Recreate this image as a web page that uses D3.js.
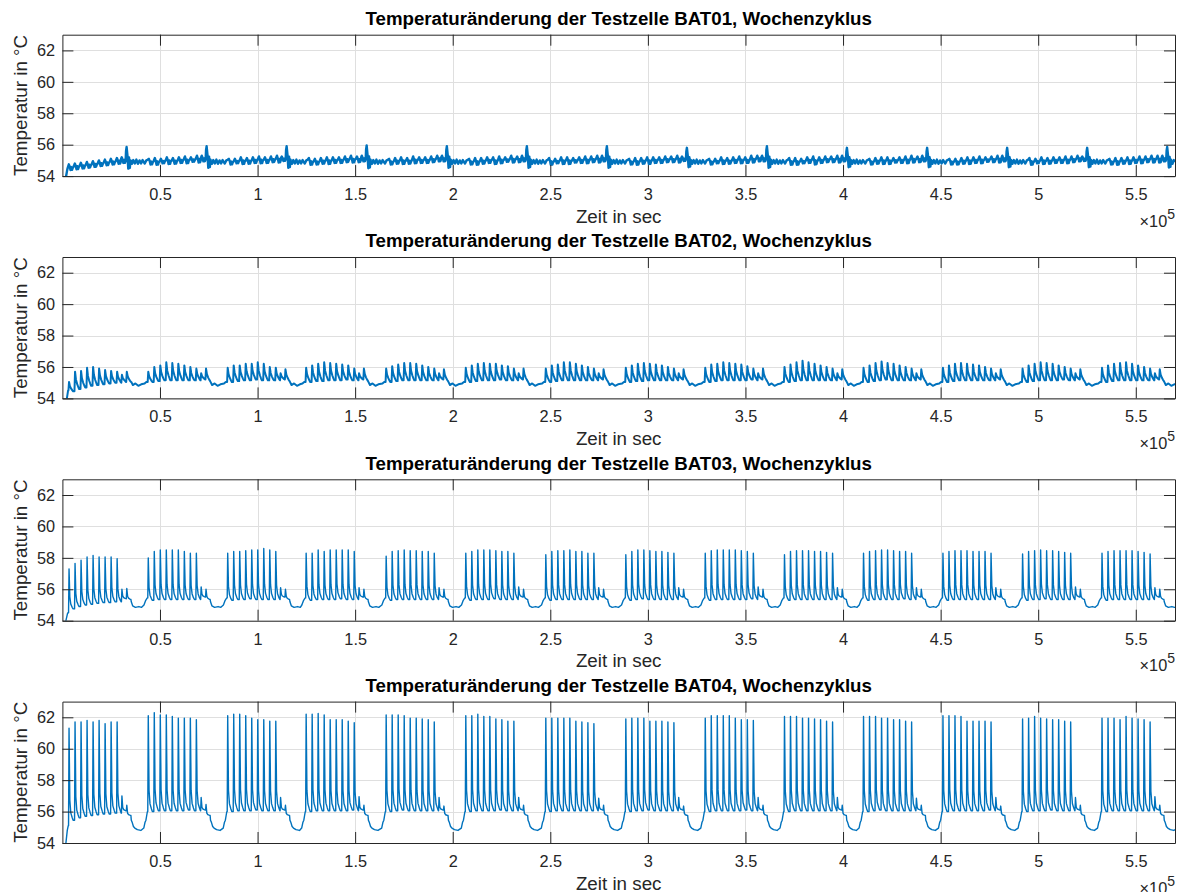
<!DOCTYPE html>
<html>
<head>
<meta charset="utf-8">
<script src="https://cdn.jsdelivr.net/npm/d3@7"></script>
<style>
  body { margin: 0; background: #ffffff; }
  text { font-family: "Liberation Sans", Arial, Helvetica, sans-serif; }
</style>
</head>
<body>
<svg id="chart" width="1183" height="892"></svg>
<script>
// ---------------- data ----------------
const cellNames = ["BAT01", "BAT02", "BAT03", "BAT04"];
const xTicks = [50000, 100000, 150000, 200000, 250000, 300000, 350000, 400000, 450000, 500000, 550000];
const yTicks = [54, 56, 58, 60, 62];
const timeEnd = 570100;          // last sample, s
const tempRange = [54, 63];      // °C

// first charge pulse of every daily block (s)
const cycleStart = [3400, 44000, 84700, 124900, 165900, 206700, 247700, 288700, 329400, 370000, 410500, 451200, 492000, 532700];
const bat01Start = [3300, 44300, 85300, 126300, 167400, 208400, 249400, 290400, 331400, 372400, 413500, 454500, 495500, 536500];
// pulse times inside a block, relative to its start (s): nine charge pulses, two trailing pulses
const pulseOffset = [0, 3080, 6160, 9240, 12320, 15400, 18480, 21560, 24640, 27100, 29600];

// BAT01: peak and trough temperatures of every pulse (°C)
const bat01Peaks = [
  [54.75, 54.8, 54.85, 54.9, 54.95, 55.0, 55.05, 55.1, 55.15, 55.2, 55.85],
  [55.1, 55.15, 55.1, 55.2, 55.15, 55.2, 55.25, 55.2, 55.3, 55.3, 55.9],
  [55.1, 55.1, 55.2, 55.15, 55.2, 55.25, 55.2, 55.25, 55.3, 55.25, 55.9],
  [55.15, 55.1, 55.15, 55.2, 55.2, 55.2, 55.25, 55.3, 55.25, 55.3, 55.95],
  [55.1, 55.15, 55.2, 55.15, 55.25, 55.2, 55.2, 55.25, 55.3, 55.3, 55.9],
  [55.1, 55.15, 55.15, 55.2, 55.2, 55.25, 55.2, 55.3, 55.25, 55.3, 55.9],
  [55.15, 55.1, 55.2, 55.2, 55.15, 55.2, 55.25, 55.25, 55.3, 55.3, 55.9],
  [55.1, 55.15, 55.15, 55.2, 55.2, 55.2, 55.25, 55.25, 55.3, 55.25, 55.8],
  [55.1, 55.1, 55.2, 55.15, 55.2, 55.25, 55.2, 55.3, 55.3, 55.3, 55.9],
  [55.15, 55.15, 55.1, 55.2, 55.25, 55.2, 55.25, 55.25, 55.3, 55.3, 55.8],
  [55.1, 55.15, 55.2, 55.2, 55.15, 55.2, 55.25, 55.3, 55.25, 55.3, 55.8],
  [55.1, 55.1, 55.15, 55.2, 55.2, 55.25, 55.2, 55.25, 55.3, 55.3, 55.8],
  [55.15, 55.1, 55.2, 55.15, 55.2, 55.2, 55.25, 55.25, 55.3, 55.25, 55.8],
  [55.1, 55.15, 55.15, 55.2, 55.2, 55.25, 55.25, 55.3, 55.3, 55.3, 55.85]
];
const bat01Troughs = [
  [54.5, 54.55, 54.6, 54.65, 54.7, 54.75, 54.8, 54.85, 54.9, 54.95, 54.9],
  [54.85, 54.85, 54.9, 54.9, 54.9, 54.95, 54.95, 55.0, 55.0, 55.05, 54.95],
  [54.85, 54.9, 54.9, 54.9, 54.95, 54.95, 54.95, 55.0, 55.0, 55.05, 54.95],
  [54.85, 54.85, 54.9, 54.9, 54.95, 54.95, 55.0, 55.0, 55.0, 55.05, 54.95],
  [54.85, 54.9, 54.9, 54.9, 54.95, 54.95, 54.95, 55.0, 55.05, 55.05, 54.95],
  [54.85, 54.85, 54.9, 54.95, 54.9, 54.95, 55.0, 55.0, 55.0, 55.05, 54.95],
  [54.85, 54.9, 54.9, 54.9, 54.95, 54.95, 54.95, 55.0, 55.0, 55.05, 54.95],
  [54.85, 54.85, 54.9, 54.9, 54.95, 54.95, 55.0, 55.0, 55.0, 55.05, 54.95],
  [54.85, 54.9, 54.9, 54.9, 54.95, 54.95, 54.95, 55.0, 55.05, 55.05, 54.95],
  [54.85, 54.85, 54.9, 54.95, 54.9, 54.95, 55.0, 55.0, 55.0, 55.05, 54.95],
  [54.85, 54.9, 54.9, 54.9, 54.95, 54.95, 54.95, 55.0, 55.0, 55.05, 54.95],
  [54.85, 54.85, 54.9, 54.9, 54.95, 54.95, 55.0, 55.0, 55.0, 55.05, 54.95],
  [54.85, 54.9, 54.9, 54.9, 54.95, 54.95, 54.95, 55.0, 55.05, 55.05, 54.95],
  [54.85, 54.85, 54.9, 54.9, 54.95, 54.95, 55.0, 55.0, 55.0, 55.05, 54.95]
];
// pulse outline: [time from peak (s), share of the rise above the trough]; BAT01 carries sensor ripple after each pulse
const bat01Shape = [[-700, 0.3], [-300, 0.7], [0, 1], [450, 0.4], [850, -0.45], [1250, 0.3], [1650, -0.4], [2000, 0.1]];
// rest phase after the trailing pulses [s from block start, °C] and warm-up before the next block [s before it, °C]
const bat01Rest = [[31700, 55.0], [32300, 54.78], [33000, 55.02], [33800, 54.8], [34600, 55.05], [35400, 54.78], [36200, 55.0], [37000, 54.8], [37800, 55.02]];
const bat01Rise = [[-2100, 54.8], [-1300, 55.0]];
const bat01LeadIn = [[0, 52.5], [1900, 54.0], [2400, 54.35]];

// BAT02
const bat02Peaks = [
  [55.05, 55.7, 55.75, 55.95, 56.0, 55.9, 55.8, 55.75, 55.7, 55.5, 55.7],
  [55.7, 56.0, 56.1, 56.3, 56.25, 56.2, 56.1, 56.0, 55.9, 55.6, 55.9],
  [55.95, 56.1, 56.1, 56.2, 56.2, 56.3, 56.2, 56.0, 55.95, 55.6, 55.85],
  [55.95, 56.1, 56.2, 56.3, 56.25, 56.2, 56.15, 56.1, 55.9, 55.6, 55.9],
  [55.9, 56.05, 56.15, 56.25, 56.25, 56.2, 56.1, 56.0, 55.9, 55.6, 55.85],
  [55.95, 56.1, 56.2, 56.25, 56.2, 56.2, 56.1, 56.05, 55.9, 55.6, 55.9],
  [55.9, 56.1, 56.15, 56.3, 56.3, 56.2, 56.1, 56.0, 55.9, 55.6, 55.85],
  [55.95, 56.1, 56.2, 56.25, 56.2, 56.15, 56.1, 56.0, 55.9, 55.6, 55.85],
  [55.95, 56.15, 56.2, 56.3, 56.25, 56.2, 56.15, 56.05, 55.9, 55.6, 55.9],
  [56.0, 56.15, 56.3, 56.4, 56.3, 56.2, 56.1, 56.0, 55.9, 55.6, 55.85],
  [55.95, 56.1, 56.25, 56.35, 56.25, 56.2, 56.1, 56.0, 55.9, 55.6, 55.85],
  [55.95, 56.1, 56.2, 56.25, 56.2, 56.15, 56.1, 56.0, 55.9, 55.6, 55.85],
  [55.9, 56.1, 56.2, 56.3, 56.25, 56.2, 56.1, 56.0, 55.9, 55.6, 55.85],
  [55.95, 56.1, 56.2, 56.25, 56.3, 56.2, 56.1, 56.0, 55.9, 55.6, 55.85]
];
const bat02Troughs = [
  [54.45, 54.6, 54.7, 54.8, 54.85, 54.9, 54.95, 55.0, 55.0, 55.05, 55.05],
  [55.05, 55.1, 55.15, 55.15, 55.15, 55.15, 55.15, 55.15, 55.15, 55.2, 55.1],
  [55.05, 55.1, 55.15, 55.15, 55.2, 55.15, 55.15, 55.15, 55.15, 55.2, 55.1],
  [55.05, 55.1, 55.1, 55.15, 55.15, 55.15, 55.2, 55.15, 55.15, 55.2, 55.1],
  [55.05, 55.1, 55.15, 55.15, 55.15, 55.15, 55.15, 55.15, 55.15, 55.2, 55.1],
  [55.05, 55.1, 55.15, 55.15, 55.15, 55.2, 55.15, 55.15, 55.15, 55.2, 55.1],
  [55.05, 55.1, 55.15, 55.15, 55.15, 55.15, 55.15, 55.15, 55.15, 55.2, 55.1],
  [55.05, 55.1, 55.1, 55.15, 55.15, 55.15, 55.15, 55.15, 55.15, 55.2, 55.1],
  [55.05, 55.1, 55.15, 55.15, 55.15, 55.15, 55.15, 55.2, 55.15, 55.2, 55.1],
  [55.05, 55.1, 55.15, 55.15, 55.15, 55.15, 55.15, 55.15, 55.15, 55.2, 55.1],
  [55.05, 55.1, 55.15, 55.2, 55.15, 55.15, 55.15, 55.15, 55.15, 55.2, 55.1],
  [55.05, 55.1, 55.15, 55.15, 55.15, 55.15, 55.15, 55.15, 55.15, 55.2, 55.1],
  [55.05, 55.1, 55.15, 55.15, 55.15, 55.15, 55.2, 55.15, 55.15, 55.2, 55.1],
  [55.05, 55.1, 55.15, 55.15, 55.15, 55.15, 55.15, 55.15, 55.15, 55.2, 55.1]
];
const bat02Shape = [[-300, 0], [0, 1], [450, 0.55], [1100, 0.28], [1700, 0.1], [2100, 0]];
const bat02Rest = [[31900, 55.05], [32700, 54.85], [34000, 54.95], [35500, 54.8], [37000, 54.9]];
const bat02Rise = [[-1900, 54.95], [-1000, 55.05]];
const bat02LeadIn = [[0, 52.0], [2300, 54.0], [2900, 54.5]];

// BAT03
const bat03Peaks = [
  [57.3, 57.65, 57.85, 58.05, 58.15, 58.05, 58.05, 58.05, 57.95, 56.0, 56.05],
  [58.0, 58.4, 58.5, 58.5, 58.5, 58.5, 58.4, 58.3, 58.3, 56.15, 56.0],
  [58.3, 58.4, 58.4, 58.45, 58.5, 58.5, 58.6, 58.5, 58.4, 56.1, 56.0],
  [58.3, 58.3, 58.5, 58.4, 58.5, 58.5, 58.5, 58.5, 58.4, 56.1, 56.0],
  [58.1, 58.4, 58.45, 58.5, 58.45, 58.45, 58.4, 58.4, 58.3, 56.1, 56.0],
  [58.3, 58.4, 58.5, 58.5, 58.5, 58.45, 58.4, 58.4, 58.3, 56.15, 56.0],
  [58.2, 58.4, 58.45, 58.45, 58.5, 58.4, 58.4, 58.3, 58.3, 56.1, 56.0],
  [58.2, 58.4, 58.5, 58.5, 58.45, 58.4, 58.4, 58.35, 58.3, 56.1, 56.0],
  [58.3, 58.45, 58.5, 58.5, 58.5, 58.5, 58.45, 58.4, 58.3, 56.15, 56.0],
  [58.2, 58.4, 58.45, 58.45, 58.45, 58.4, 58.4, 58.35, 58.3, 56.1, 56.0],
  [58.3, 58.4, 58.45, 58.5, 58.5, 58.45, 58.4, 58.4, 58.3, 56.1, 56.0],
  [58.3, 58.4, 58.45, 58.45, 58.45, 58.4, 58.4, 58.4, 58.3, 56.1, 56.0],
  [58.25, 58.4, 58.45, 58.5, 58.45, 58.45, 58.4, 58.35, 58.3, 56.15, 56.0],
  [58.3, 58.4, 58.45, 58.45, 58.45, 58.45, 58.4, 58.35, 58.25, 56.1, 56.0]
];
const bat03Troughs = [
  [54.75, 54.9, 55.0, 55.05, 55.1, 55.15, 55.15, 55.2, 55.2, 55.4, 55.35],
  [55.3, 55.35, 55.35, 55.35, 55.35, 55.35, 55.35, 55.35, 55.35, 55.5, 55.35],
  [55.3, 55.35, 55.35, 55.4, 55.35, 55.35, 55.35, 55.35, 55.35, 55.5, 55.35],
  [55.3, 55.35, 55.35, 55.35, 55.35, 55.4, 55.35, 55.35, 55.35, 55.5, 55.35],
  [55.3, 55.35, 55.35, 55.35, 55.35, 55.35, 55.35, 55.35, 55.35, 55.5, 55.35],
  [55.3, 55.35, 55.35, 55.35, 55.4, 55.35, 55.35, 55.35, 55.35, 55.5, 55.35],
  [55.3, 55.35, 55.35, 55.35, 55.35, 55.35, 55.35, 55.35, 55.35, 55.5, 55.35],
  [55.3, 55.35, 55.4, 55.35, 55.35, 55.35, 55.35, 55.35, 55.35, 55.5, 55.35],
  [55.3, 55.35, 55.35, 55.35, 55.35, 55.35, 55.35, 55.4, 55.35, 55.5, 55.35],
  [55.3, 55.35, 55.35, 55.35, 55.35, 55.35, 55.35, 55.35, 55.35, 55.5, 55.35],
  [55.3, 55.35, 55.35, 55.35, 55.35, 55.35, 55.4, 55.35, 55.35, 55.5, 55.35],
  [55.3, 55.35, 55.35, 55.35, 55.35, 55.35, 55.35, 55.35, 55.35, 55.5, 55.35],
  [55.3, 55.35, 55.35, 55.4, 55.35, 55.35, 55.35, 55.35, 55.35, 55.5, 55.35],
  [55.3, 55.35, 55.35, 55.35, 55.35, 55.35, 55.35, 55.35, 55.35, 55.5, 55.35]
];
const bat03Shape = [[-250, 0], [0, 1], [400, 0.3], [900, 0.12], [1600, 0.04], [2100, 0]];
const bat03Rest = [[31900, 55.2], [32600, 54.95], [34000, 54.85], [35800, 54.9], [37200, 54.85]];
const bat03Rise = [[-2200, 55.0], [-1300, 55.3], [-500, 55.45]];
const bat03LeadIn = [[0, 51.5], [1800, 54.0], [2700, 54.5]];

// BAT04
const bat04Peaks = [
  [61.3, 61.7, 61.7, 61.8, 61.7, 61.8, 61.6, 61.7, 61.7, 57.0, 56.4],
  [62.1, 62.3, 62.15, 62.15, 62.05, 61.95, 61.95, 61.95, 61.85, 56.9, 56.45],
  [62.1, 62.2, 62.2, 62.1, 61.95, 61.85, 61.85, 61.75, 61.75, 56.9, 56.4],
  [62.2, 62.2, 62.25, 62.15, 61.85, 61.85, 61.85, 61.75, 61.65, 56.95, 56.4],
  [62.15, 62.15, 62.15, 62.1, 61.95, 61.95, 61.9, 61.85, 61.7, 56.9, 56.35],
  [62.1, 62.1, 62.2, 62.05, 62.05, 61.9, 61.85, 61.75, 61.75, 56.9, 56.4],
  [61.95, 61.95, 61.95, 61.95, 61.95, 61.75, 61.7, 61.65, 61.6, 56.85, 56.4],
  [61.9, 61.95, 61.95, 61.95, 61.75, 61.75, 61.75, 61.7, 61.65, 56.9, 56.35],
  [61.95, 62.1, 62.1, 62.1, 62.1, 61.95, 61.85, 61.85, 61.8, 56.9, 56.4],
  [62.05, 62.05, 62.05, 61.95, 61.95, 61.9, 61.85, 61.75, 61.7, 56.9, 56.4],
  [62.05, 62.05, 62.05, 61.95, 61.95, 61.85, 61.85, 61.75, 61.7, 56.85, 56.4],
  [62.1, 62.1, 62.1, 62.05, 61.75, 61.75, 61.75, 61.75, 61.7, 56.9, 56.35],
  [61.9, 61.95, 62.05, 61.95, 61.9, 61.85, 61.85, 61.75, 61.7, 56.9, 56.4],
  [61.95, 61.95, 61.95, 61.85, 62.05, 61.95, 61.9, 61.85, 61.7, 56.95, 56.4]
];
const bat04Troughs = [
  [55.45, 55.6, 55.7, 55.75, 55.8, 55.85, 55.85, 55.9, 55.9, 56.05, 55.75],
  [56.0, 56.05, 56.05, 56.05, 56.05, 56.05, 56.1, 56.05, 56.05, 56.1, 55.75],
  [56.0, 56.05, 56.05, 56.05, 56.1, 56.05, 56.05, 56.05, 56.05, 56.1, 55.75],
  [56.0, 56.05, 56.05, 56.05, 56.05, 56.05, 56.05, 56.1, 56.05, 56.1, 55.75],
  [56.0, 56.05, 56.1, 56.05, 56.05, 56.05, 56.05, 56.05, 56.05, 56.1, 55.75],
  [56.0, 56.05, 56.05, 56.05, 56.05, 56.1, 56.05, 56.05, 56.05, 56.1, 55.75],
  [56.0, 56.05, 56.05, 56.05, 56.05, 56.05, 56.05, 56.05, 56.05, 56.1, 55.75],
  [56.0, 56.05, 56.05, 56.1, 56.05, 56.05, 56.05, 56.05, 56.05, 56.1, 55.75],
  [56.0, 56.05, 56.05, 56.05, 56.05, 56.05, 56.1, 56.05, 56.05, 56.1, 55.75],
  [56.0, 56.05, 56.05, 56.05, 56.05, 56.05, 56.05, 56.05, 56.05, 56.1, 55.75],
  [56.0, 56.05, 56.1, 56.05, 56.05, 56.05, 56.05, 56.05, 56.05, 56.1, 55.75],
  [56.0, 56.05, 56.05, 56.05, 56.05, 56.05, 56.05, 56.1, 56.05, 56.1, 55.75],
  [56.0, 56.05, 56.05, 56.05, 56.1, 56.05, 56.05, 56.05, 56.05, 56.1, 55.75],
  [56.0, 56.05, 56.05, 56.05, 56.05, 56.05, 56.05, 56.05, 56.05, 56.1, 55.75]
];
const bat04Shape = [[-250, 0], [0, 1], [400, 0.22], [900, 0.08], [1600, 0.03], [2100, 0]];
const bat04Rest = [[31900, 55.45], [32400, 55.3], [33000, 55.05], [33700, 54.95], [35000, 54.85], [36800, 54.8]];
const bat04Rise = [[-2300, 54.95], [-1700, 55.3], [-1200, 55.45], [-800, 55.75], [-450, 56.0]];
const bat04LeadIn = [[0, 51.0], [1800, 54.0], [2500, 54.8], [3000, 55.1]];

const endTemps = [54.9, 54.9, 54.85, 54.85];

// ---------------- layout & style ----------------
const W = 1183;
const plotLeft = 62.4, plotRight = 1175;
const firstTop = 34.7, panelStep = 222.3, plotH = 141.4;
const lineColor = "#0072BD";
const axisColor = "#262626";
const gridColor = "#dfdfdf";
const lineWidths = [2.4, 2.0, 1.4, 1.4];
const tickLen = 11;

const series = [
  { start: bat01Start, peaks: bat01Peaks, troughs: bat01Troughs, shape: bat01Shape, rest: bat01Rest, rise: bat01Rise, leadIn: bat01LeadIn },
  { start: cycleStart, peaks: bat02Peaks, troughs: bat02Troughs, shape: bat02Shape, rest: bat02Rest, rise: bat02Rise, leadIn: bat02LeadIn },
  { start: cycleStart, peaks: bat03Peaks, troughs: bat03Troughs, shape: bat03Shape, rest: bat03Rest, rise: bat03Rise, leadIn: bat03LeadIn },
  { start: cycleStart, peaks: bat04Peaks, troughs: bat04Troughs, shape: bat04Shape, rest: bat04Rest, rise: bat04Rise, leadIn: bat04LeadIn }
];

// assemble the time/temperature polyline of one cell
function buildTrace(s, endTemp) {
  const pts = [];
  const push = (t, v) => {
    if (t > timeEnd) return;
    if (pts.length && t <= pts[pts.length - 1][0]) return;
    pts.push([t, v]);
  };
  s.leadIn.forEach(d => push(d[0], d[1]));
  let prev = s.leadIn[s.leadIn.length - 1][1];
  s.start.forEach((t0, b) => {
    pulseOffset.forEach((off, k) => {
      const tp = t0 + off, pk = s.peaks[b][k], tr = s.troughs[b][k];
      s.shape.forEach(([dt, f]) => {
        const base = dt < 0 ? prev : tr;
        push(tp + dt, base + f * (pk - base));
      });
      prev = tr;
    });
    s.rest.forEach(([dt, v]) => { push(t0 + dt, v); prev = v; });
    if (b < s.start.length - 1) {
      s.rise.forEach(([dt, v]) => { push(s.start[b + 1] + dt, v); prev = v; });
    }
  });
  push(timeEnd, endTemp);
  return pts;
}

const svg = d3.select("#chart");
svg.append("rect").attr("width", W).attr("height", 892).attr("fill", "#fff");

const x = d3.scaleLinear().domain([0, timeEnd]).range([plotLeft, plotRight]);
const fmtX = d => String(+(d / 1e5).toFixed(1));

cellNames.forEach((name, i) => {
  const top = firstTop + i * panelStep;
  const bottom = top + plotH;
  const y = d3.scaleLinear().domain(tempRange).range([bottom, top]);
  const g = svg.append("g");

  // grid
  g.append("g").selectAll("line").data(xTicks).join("line")
    .attr("x1", d => Math.round(x(d)) + 0.5).attr("x2", d => Math.round(x(d)) + 0.5)
    .attr("y1", top).attr("y2", bottom)
    .attr("stroke", gridColor).attr("stroke-width", 1);
  g.append("g").selectAll("line").data(yTicks).join("line")
    .attr("x1", plotLeft).attr("x2", plotRight)
    .attr("y1", d => Math.round(y(d)) + 0.5).attr("y2", d => Math.round(y(d)) + 0.5)
    .attr("stroke", gridColor).attr("stroke-width", 1);

  // data line
  const clipId = "clip" + i;
  svg.append("clipPath").attr("id", clipId).append("rect")
    .attr("x", plotLeft).attr("y", top).attr("width", plotRight - plotLeft).attr("height", plotH);
  const trace = buildTrace(series[i], endTemps[i]);
  g.append("path")
    .datum(trace)
    .attr("clip-path", `url(#${clipId})`)
    .attr("fill", "none")
    .attr("stroke", lineColor)
    .attr("stroke-width", lineWidths[i])
    .attr("stroke-linejoin", "round")
    .attr("d", d3.line().x(d => x(d[0])).y(d => y(d[1])));

  // axes (ticks point inward on all four sides)
  const styleAxis = sel => {
    sel.selectAll(".domain").attr("stroke", axisColor).attr("stroke-width", 1);
    sel.selectAll(".tick line").attr("stroke", axisColor).attr("stroke-width", 1);
    sel.selectAll(".tick text").attr("fill", axisColor).style("font-size", "16.3px")
      .style("font-family", '"Liberation Sans", Arial, sans-serif');
  };
  g.append("g").attr("transform", `translate(0,${bottom})`)
    .call(d3.axisBottom(x).tickValues(xTicks).tickFormat(fmtX).tickSize(-tickLen).tickSizeOuter(0).tickPadding(12.4))
    .call(styleAxis);
  g.append("g").attr("transform", `translate(0,${top})`)
    .call(d3.axisTop(x).tickValues(xTicks).tickFormat("").tickSize(-tickLen).tickSizeOuter(0))
    .call(styleAxis);
  g.append("g").attr("transform", `translate(${plotLeft},0)`)
    .call(d3.axisLeft(y).tickValues(yTicks).tickFormat(d3.format("d")).tickSize(-tickLen).tickSizeOuter(0).tickPadding(7.4))
    .call(styleAxis);
  g.append("g").attr("transform", `translate(${plotRight},0)`)
    .call(d3.axisRight(y).tickValues(yTicks).tickFormat("").tickSize(-tickLen).tickSizeOuter(0))
    .call(styleAxis);

  // title and labels
  const cx = (plotLeft + plotRight) / 2;
  g.append("text")
    .attr("x", cx).attr("y", top - 9.7)
    .attr("text-anchor", "middle")
    .style("font-size", "18.7px").style("font-weight", "bold")
    .attr("fill", "#000")
    .text(`Temperaturänderung der Testzelle ${name}, Wochenzyklus`);
  g.append("text")
    .attr("x", cx).attr("y", bottom + 46.7)
    .attr("text-anchor", "middle")
    .style("font-size", "18.8px").attr("fill", axisColor)
    .text("Zeit in sec");
  g.append("text")
    .attr("transform", `translate(26.5,${(top + bottom) / 2}) rotate(-90)`)
    .attr("text-anchor", "middle")
    .style("font-size", "18.8px").attr("fill", axisColor)
    .text("Temperatur in °C");
  const ex = g.append("text")
    .attr("x", plotRight).attr("y", bottom + 50.7)
    .attr("text-anchor", "end")
    .attr("fill", axisColor)
    .style("font-size", "16.3px");
  ex.append("tspan").text("×10");
  ex.append("tspan").attr("dy", -8).style("font-size", "14px").text("5");
});
</script>
</body>
</html>
